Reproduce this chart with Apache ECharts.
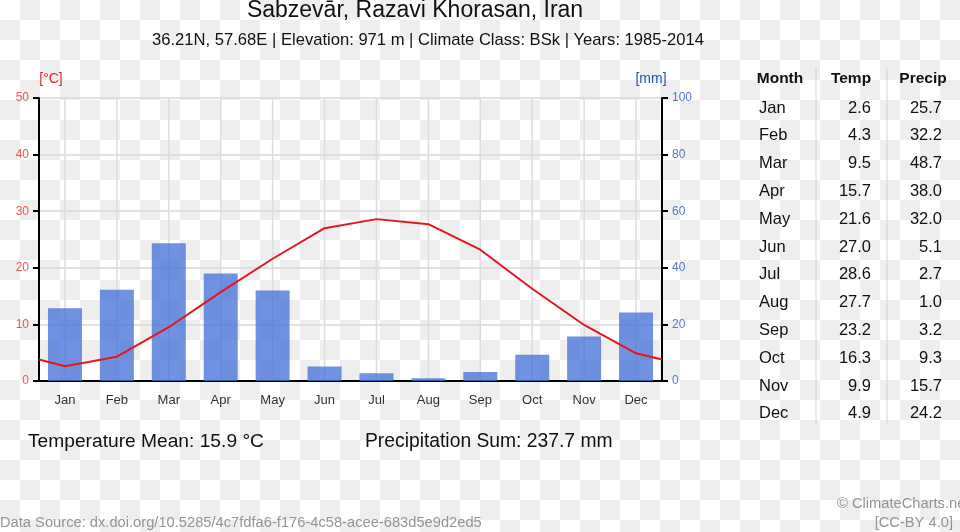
<!DOCTYPE html>
<html>
<head>
<meta charset="utf-8">
<script src="https://cdn.jsdelivr.net/npm/echarts@6/dist/echarts.min.js"></script>
<style>
html,body{margin:0;padding:0;width:960px;height:532px;overflow:hidden;
background:repeating-conic-gradient(#eeeeee 0 25%, #ffffff 0 50%) 0 0/40px 40px;}
#c{width:960px;height:532px;}
</style>
</head>
<body>
<div id="c"></div>
<script>
var months = ['Jan','Feb','Mar','Apr','May','Jun','Jul','Aug','Sep','Oct','Nov','Dec'];
var temp = [2.6, 4.3, 9.5, 15.7, 21.6, 27.0, 28.6, 27.7, 23.2, 16.3, 9.9, 4.9];
var precip = [25.7, 32.2, 48.7, 38.0, 32.0, 5.1, 2.7, 1.0, 3.2, 9.3, 15.7, 24.2];
var tempEdge = 3.8; // value of the line at the plot edges
var titleText = 'Sabzevār, Razavi Khorasan, Iran';
var subtitleText = '36.21N, 57.68E | Elevation: 971 m | Climate Class: BSk | Years: 1985-2014';
var tempMeanText = 'Temperature Mean: 15.9 °C';
var precipSumText = 'Precipitation Sum: 237.7 mm';
var sourceText = 'Data Source: dx.doi.org/10.5285/4c7fdfa6-f176-4c58-acee-683d5e9d2ed5';

var FONT = '"Liberation Sans", Arial, sans-serif';
var chart = echarts.init(document.getElementById('c'), null, {renderer:'canvas'});

var lineData = [[0, tempEdge]];
temp.forEach(function(v,i){ lineData.push([i+0.5, v]); });
lineData.push([12, tempEdge]);

var graphics = [];
function txt(x,y,s,opt){
  opt = opt || {};
  graphics.push({type:'text', x:x, y:y, silent:true, style:{
    text:s, fill:opt.color||'#111', font:(opt.weight||'normal')+' '+(opt.size||16)+'px '+FONT,
    textAlign:opt.align||'left', textVerticalAlign:'middle'}});
}
txt(415, 11, titleText, {size:23, align:'center'});
txt(428, 40, subtitleText, {size:16.6, align:'center'});
txt(51, 79, '[°C]', {size:14, color:'#e8262a', align:'center'});
txt(651, 79, '[mm]', {size:14, color:'#2050c0', align:'center'});
txt(28, 442, tempMeanText, {size:19.2});
txt(365, 442, precipSumText, {size:19.3});
txt(0, 523, sourceText, {size:14.7, color:'#959595'});
txt(837, 504, '© ClimateCharts.net', {size:14.7, color:'#959595'});
txt(953, 523, '[CC-BY 4.0]', {size:14.7, color:'#959595', align:'right'});

// table
txt(780, 79, 'Month', {size:15.5, weight:'bold', align:'center'});
txt(851, 79, 'Temp', {size:15.5, weight:'bold', align:'center'});
txt(923, 79, 'Precip', {size:15.5, weight:'bold', align:'center'});
months.forEach(function(m,i){
  var y = 108 + i*27.8;
  txt(759, y, m, {size:16.5});
  txt(871, y, temp[i].toFixed(1), {size:16.5, align:'right'});
  txt(942, y, precip[i].toFixed(1), {size:16.5, align:'right'});
});
[816, 887].forEach(function(x){
  graphics.push({type:'line', silent:true, shape:{x1:x,y1:68,x2:x,y2:424}, style:{stroke:'#d0d0d0', lineWidth:1}});
});

chart.setOption({
  backgroundColor:'transparent',
  animation:false,
  grid:{left:39, right:298, top:98, bottom:151},
  xAxis:[
    {type:'category', data:months, boundaryGap:true,
     axisLine:{lineStyle:{color:'#000', width:2}},
     axisTick:{alignWithLabel:true, length:6, lineStyle:{color:'#000', width:2}},
     axisLabel:{color:'#333', fontFamily:FONT, fontSize:13, margin:13},
     splitLine:{show:false}},
    {type:'value', min:0, max:12, show:false, splitLine:{show:false}}
  ],
  yAxis:[
    {type:'value', min:0, max:50, interval:10, position:'left',
     axisLine:{show:true, lineStyle:{color:'#000', width:2}},
     axisTick:{show:true, length:6, lineStyle:{color:'#000', width:2}},
     axisLabel:{color:'#ee5555', fontFamily:FONT, fontSize:12, margin:10},
     splitLine:{show:true, lineStyle:{color:'#d8d8d8', width:1.5}}},
    {type:'value', min:0, max:100, interval:20, position:'right',
     axisLine:{show:true, lineStyle:{color:'#000', width:2}},
     axisTick:{show:true, length:6, lineStyle:{color:'#000', width:2}},
     axisLabel:{color:'#5577d0', fontFamily:FONT, fontSize:12, margin:10},
     splitLine:{show:false}}
  ],
  series:[
    {type:'custom', xAxisIndex:0, yAxisIndex:0, silent:true, z:0,
     data:months.map(function(m,i){return i;}),
     renderItem:function(params, api){
       var p = api.coord([api.value(0), 0]);
       var top = api.coord([api.value(0), 50]);
       return {type:'line', shape:{x1:p[0], y1:p[1], x2:top[0], y2:top[1]},
               style:{stroke:'#dcdcdc', lineWidth:1.5}};
     }},
    {type:'bar', xAxisIndex:0, yAxisIndex:1, data:precip, barWidth:34,
     itemStyle:{color:'rgba(65,110,215,0.75)'}, z:2},
    {type:'line', xAxisIndex:1, yAxisIndex:0, data:lineData, symbol:'none',
     lineStyle:{color:'#e8141c', width:2}, z:3}
  ],
  graphic:graphics
});
</script>
</body>
</html>
